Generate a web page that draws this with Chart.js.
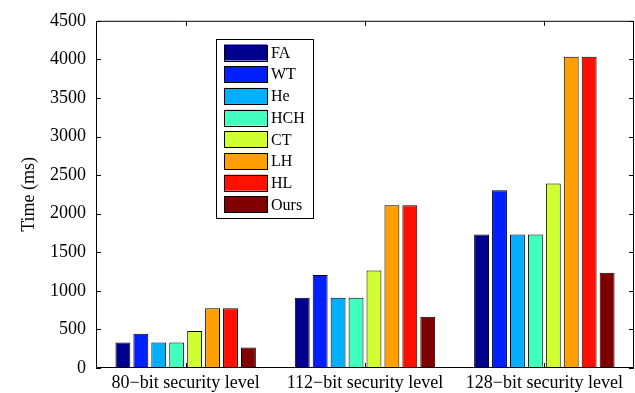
<!DOCTYPE html>
<html>
<head>
<meta charset="utf-8">
<script src="https://cdn.jsdelivr.net/npm/chart.js@4/dist/chart.umd.min.js"></script>
<style>
  html, body { margin: 0; padding: 0; background: #fff; }
</style>
</head>
<body>
<canvas id="chart" width="635" height="393"></canvas>
<script>
// categories and series
const levels = ['80\u2212bit security level', '112\u2212bit security level', '128\u2212bit security level'];
const schemes = ['FA', 'WT', 'He', 'HCH', 'CT', 'LH', 'HL', 'Ours'];
const colors = ['#00008f', '#0020ff', '#00afff', '#40ffbf', '#cfff30', '#ff9f00', '#ff1000', '#800000'];

const FA   = [330, 910, 1730];
const WT   = [445, 1205, 2305];
const He   = [330, 910, 1730];
const HCH  = [330, 910, 1730];
const CT   = [480, 1265, 2390];
const LH   = [775, 2110, 4035];
const HL   = [775, 2110, 4035];
const Ours = [265, 665, 1235];
const series = [FA, WT, He, HCH, CT, LH, HL, Ours];

const yTicks = [0, 500, 1000, 1500, 2000, 2500, 3000, 3500, 4000, 4500];

const font = "'Liberation Serif', 'Times New Roman', serif";

// matlab-style box, inward ticks and legend
const matlabFrame = {
    id: 'matlabFrame',
    afterDraw(chart) {
        const ctx = chart.ctx;
        const a = chart.chartArea;
        const x = chart.scales.x, y = chart.scales.y;
        ctx.save();
        ctx.strokeStyle = '#000';
        ctx.lineWidth = 1;
        ctx.beginPath();
        ctx.rect(a.left + 0.5, a.top + 0.5, a.right - a.left - 1, a.bottom - a.top - 1);
        ctx.stroke();

        ctx.beginPath();
        yTicks.forEach(v => {
            const py = Math.round(y.getPixelForValue(v)) + 0.5;
            ctx.moveTo(a.left, py); ctx.lineTo(a.left + 5, py);
            ctx.moveTo(a.right, py); ctx.lineTo(a.right - 5, py);
        });
        levels.forEach((l, i) => {
            const px = Math.round(x.getPixelForValue(i)) + 0.5;
            ctx.moveTo(px, a.bottom); ctx.lineTo(px, a.bottom - 5);
            ctx.moveTo(px, a.top); ctx.lineTo(px, a.top + 5);
        });
        ctx.stroke();

        // legend
        const lx = 216, ly = 39, lw = 97, lh = 179;
        ctx.fillStyle = '#fff';
        ctx.fillRect(lx, ly, lw, lh);
        ctx.strokeRect(lx + 0.5, ly + 0.5, lw, lh);
        ctx.font = '16px ' + font;
        ctx.textBaseline = 'middle';
        chart.data.datasets.forEach((ds, i) => {
            const sy = ly + 5.5 + i * 21.7;
            ctx.fillStyle = ds.backgroundColor;
            ctx.fillRect(lx + 8, sy, 43, 16);
            ctx.strokeStyle = '#000';
            ctx.strokeRect(lx + 8.5, Math.round(sy) + 0.5, 43, 16);
            ctx.fillStyle = '#000';
            ctx.fillText(ds.label, lx + 55, sy + 9);
        });
        ctx.restore();
    }
};

new Chart(document.getElementById('chart'), {
    type: 'bar',
    data: {
        labels: levels,
        datasets: schemes.map((s, i) => ({
            label: s,
            data: series[i],
            backgroundColor: colors[i],
            borderColor: '#000',
            borderWidth: 1,
            categoryPercentage: 0.8,
            barPercentage: 0.83
        }))
    },
    options: {
        responsive: false,
        animation: false,
        devicePixelRatio: 1,
        layout: { padding: { top: 17, right: 1, left: 0, bottom: 0 } },
        plugins: {
            legend: { display: false },
            tooltip: { enabled: false }
        },
        scales: {
            x: {
                grid: { display: false, drawTicks: false },
                border: { display: false },
                ticks: { color: '#000', font: { family: font, size: 18 }, padding: 4, maxRotation: 0 },
                afterFit(scale) { scale.height = 25; }
            },
            y: {
                min: 0,
                max: 4500,
                grid: { display: false, drawTicks: false },
                border: { display: false },
                ticks: {
                    color: '#000', stepSize: 500, font: { family: font, size: 18 }, padding: 10,
                    callback: v => String(v)
                },
                title: { display: true, text: 'Time (ms)', color: '#000', font: { family: font, size: 18 }, padding: { top: 18, bottom: 0 } },
                afterFit(scale) { scale.width = 96; }
            }
        }
    },
    plugins: [matlabFrame]
});
</script>
</body>
</html>
